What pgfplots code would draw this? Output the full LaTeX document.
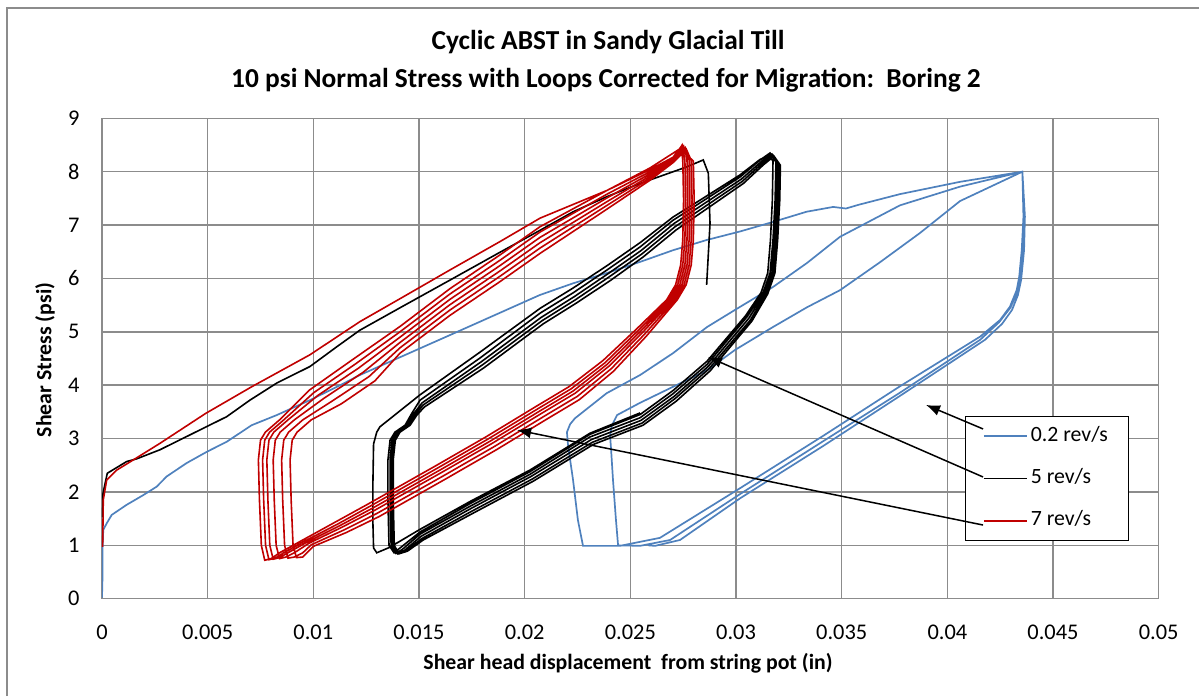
\documentclass[border=0pt]{standalone}
\usepackage{fontspec}
\setmainfont{Carlito}
\usepackage{pgfplots}
\pgfplotsset{compat=1.18}
\usetikzlibrary{arrows.meta}
\definecolor{sblue}{HTML}{4F81BD}
\definecolor{sred}{HTML}{C00000}
\definecolor{gridgray}{HTML}{8C8C8C}
\begin{document}
\begin{tikzpicture}
\path[use as bounding box] (0pt,0pt) rectangle (599.5pt,348pt);
\draw[gridgray, line width=0.6pt] (3.5pt,0pt) -- (3.5pt,344pt) -- (599.5pt,344pt);
\node[font=\bfseries\fontsize{13.7}{16}\selectfont] at (304pt,327pt) {Cyclic ABST in Sandy Glacial Till};
\node[font=\bfseries\fontsize{13.7}{16}\selectfont] at (303pt,308pt) {10 psi Normal Stress with Loops Corrected for Migration:\ \ Boring 2};
\node[font=\bfseries\fontsize{10.9}{13}\selectfont, rotate=90] at (22.5pt,168pt) {Shear Stress (psi)};
\node[font=\bfseries\fontsize{10.9}{13}\selectfont] at (314pt,16.5pt) {Shear head displacement\ \ from string pot (in)};
\begin{axis}[
  at={(51pt,48.65pt)}, anchor=south west,
  width=528.35pt, height=240.2pt, scale only axis,
  xmin=0, xmax=0.05, ymin=0, ymax=9,
  scaled x ticks=false, scaled y ticks=false,
  axis line style={gridgray, line width=0.7pt},
  grid=major, major grid style={gridgray, line width=0.7pt},
  major tick length=0pt, tick style={draw=none},
  xtick={0,0.005,0.01,0.015,0.02,0.025,0.03,0.035,0.04,0.045,0.05},
  xticklabels={0,0.005,0.01,0.015,0.02,0.025,0.03,0.035,0.04,0.045,0.05},
  ytick={0,1,2,3,4,5,6,7,8,9},
  /pgf/number format/assume math mode=true,
  tick label style={font=\fontsize{11.2}{13}\selectfont},
  xticklabel style={anchor=north, inner sep=0pt, yshift=-13pt},
  yticklabel style={anchor=east, inner sep=0pt, xshift=-11pt},
  legend style={at={(0.8167,0.3803)}, anchor=north west, draw=black, line width=0.6pt, fill=white,
    inner xsep=8.75pt, inner ysep=3.35pt, row sep=8.15pt, font=\fontsize{10.9}{13}\selectfont,
    cells={anchor=west}, nodes={inner sep=1.5pt, text height=7.5pt, text depth=2.5pt}},
  legend image code/.code={\draw[#1] (0pt,0pt) -- (21.5pt,0pt);},
]
% 0.2 rev/s
\addplot[sblue, line width=0.85pt, mark=none] coordinates {
(0,0.02)(0.00003,0.5)(0.00003,0.97)(0.00006,1.29)(0.00022,1.41)(0.00046,1.57)(0.00117,1.76)(0.00195,1.94)(0.00259,2.10)(0.00306,2.29)(0.0040,2.54)(0.00495,2.75)(0.0059,2.94)(0.00708,3.25)(0.00827,3.44)(0.00984,3.72)(0.01142,4.03)(0.0122,4.19)(0.01647,4.94)(0.02072,5.69)(0.0223,5.91)(0.02388,6.10)(0.02546,6.31)(0.02703,6.53)(0.02861,6.72)(0.03019,6.88)(0.03176,7.06)(0.03334,7.25)(0.0346,7.34)(0.0352,7.31)(0.0358,7.38)(0.03776,7.58)(0.0406,7.81)(0.04355,8.0)
(0.0436,7.16)(0.04352,6.53)(0.0434,6.03)(0.04328,5.78)(0.04296,5.47)(0.04249,5.22)(0.04155,4.91)(0.03776,3.98)(0.03412,3.05)(0.03019,2.07)(0.0264,1.14)(0.02451,0.99)(0.02276,0.99)
(0.02252,1.47)(0.02229,2.22)(0.02205,2.88)(0.022,3.12)(0.02215,3.27)(0.02238,3.38)(0.02388,3.85)(0.02546,4.19)(0.02702,4.6)(0.02863,5.09)(0.02995,5.41)(0.03175,5.84)(0.03336,6.29)(0.03492,6.78)(0.03776,7.37)(0.0406,7.72)(0.04355,8.0)
(0.04362,7.16)(0.04356,6.53)(0.04345,6.03)(0.04332,5.76)(0.04298,5.45)(0.04245,5.18)(0.04155,4.85)(0.03776,3.86)(0.03412,2.95)(0.03019,1.96)(0.02688,1.10)(0.02546,0.99)(0.02442,1.0)
(0.02432,1.47)(0.02418,2.22)(0.02409,2.79)(0.02404,3.06)(0.02413,3.25)(0.02437,3.44)(0.02546,3.67)(0.02702,3.97)(0.02863,4.28)(0.02995,4.66)(0.03175,5.09)(0.03336,5.46)(0.03492,5.78)(0.0368,6.3)(0.0387,6.85)(0.0406,7.45)(0.04355,8.0)
(0.04367,7.16)(0.04363,6.53)(0.04349,5.97)(0.04334,5.69)(0.04306,5.41)(0.04259,5.15)(0.04178,4.85)(0.03776,3.80)(0.03412,2.86)(0.03019,1.88)(0.02735,1.10)(0.02617,0.99)(0.02584,1.0)
};
\addlegendentry{0.2 rev/s}
% 5 rev/s loops
\addplot[black, line width=0.8pt, mark=none] coordinates {
(0.02546,3.48)(0.02309,3.10)(0.02025,2.41)(0.01741,1.82)(0.01505,1.30)(0.0136,0.96)(0.0130,0.86)(0.01285,0.95)
(0.01282,1.4)(0.01282,2.2)(0.01285,2.9)(0.01300,3.12)(0.01315,3.22)(0.0141,3.52)(0.01505,3.82)(0.01789,4.62)(0.02073,5.44)(0.02229,5.82)(0.0239,6.24)(0.02546,6.67)(0.02702,7.15)(0.02863,7.55)(0.03019,7.94)(0.03114,8.23)(0.03155,8.3)
(0.03175,8.2)(0.03172,7.47)(0.03163,6.72)(0.03150,6.10)(0.03118,5.73)(0.03045,5.30)(0.02863,4.45)(0.02702,3.90)(0.02546,3.45)(0.02309,3.08)(0.02025,2.38)(0.01741,1.78)(0.01505,1.25)(0.0141,0.95)(0.01382,0.86)
(0.01358,1.0)(0.01353,1.85)(0.01353,2.60)(0.01363,2.97)(0.01386,3.12)(0.01434,3.25)(0.01467,3.48)(0.01505,3.72)(0.01789,4.51)(0.02073,5.35)(0.02229,5.73)(0.0239,6.16)(0.02546,6.59)(0.02702,7.09)(0.02863,7.50)(0.03019,7.90)(0.03114,8.22)(0.03161,8.35)
(0.03189,8.18)(0.03185,7.47)(0.03175,6.72)(0.03161,6.10)(0.03128,5.73)(0.03052,5.28)(0.02863,4.39)(0.02702,3.84)(0.02546,3.39)(0.02309,3.03)(0.02025,2.33)(0.01741,1.73)(0.01505,1.21)(0.0142,0.92)(0.0139,0.85)
(0.01368,1.0)(0.01363,1.85)(0.01363,2.60)(0.01372,2.97)(0.01395,3.12)(0.01443,3.25)(0.01476,3.47)(0.01515,3.67)(0.01795,4.44)(0.02078,5.27)(0.02235,5.66)(0.02395,6.09)(0.0255,6.52)(0.02707,7.03)(0.02868,7.45)(0.03025,7.86)(0.0312,8.19)(0.0317,8.33)
(0.03196,8.16)(0.03193,7.47)(0.03183,6.72)(0.0317,6.10)(0.03136,5.73)(0.0306,5.25)(0.02868,4.35)(0.02707,3.79)(0.0255,3.34)(0.02315,2.98)(0.0203,2.29)(0.01746,1.69)(0.0151,1.17)(0.0143,0.90)(0.01398,0.84)
(0.01376,1.0)(0.0137,1.85)(0.0137,2.60)(0.0138,2.97)(0.01403,3.12)(0.0145,3.25)(0.01483,3.46)(0.0152,3.63)(0.018,4.38)(0.02083,5.21)(0.0224,5.60)(0.024,6.03)(0.02555,6.46)(0.02712,6.97)(0.02873,7.40)(0.0303,7.82)(0.03125,8.16)(0.03175,8.31)
(0.03203,8.14)(0.032,7.47)(0.0319,6.72)(0.03177,6.10)(0.03143,5.72)(0.03068,5.22)(0.02873,4.31)(0.02712,3.75)(0.02555,3.29)(0.0232,2.93)(0.02035,2.24)(0.0175,1.64)(0.01515,1.13)(0.01438,0.89)(0.01405,0.84)
(0.01383,1.0)(0.01378,1.85)(0.01378,2.6)(0.01388,2.97)(0.0141,3.12)(0.01458,3.25)(0.0149,3.44)(0.01525,3.59)(0.01805,4.32)(0.02088,5.15)(0.02245,5.54)(0.02405,5.96)(0.0256,6.40)(0.02717,6.91)(0.02878,7.35)(0.03035,7.78)(0.0313,8.13)(0.0318,8.29)
(0.0321,8.12)(0.03207,7.47)(0.03197,6.72)(0.03184,6.10)(0.0315,5.71)(0.03075,5.20)(0.02878,4.27)(0.02717,3.70)(0.0256,3.25)(0.02325,2.89)(0.0204,2.20)(0.01755,1.60)(0.0152,1.10)(0.01445,0.89)(0.01412,0.85)
};
\addlegendentry{5 rev/s}
% 5 rev/s first loading
\addplot[black, line width=0.8pt, mark=none, forget plot] coordinates {
(0.00003,1.53)(0.00005,1.98)(0.00025,2.35)(0.00117,2.57)(0.00164,2.62)(0.00274,2.79)(0.00432,3.10)(0.0059,3.41)(0.0070,3.72)(0.00827,4.04)(0.00984,4.35)(0.01111,4.72)(0.0122,5.03)(0.0141,5.45)(0.01647,5.97)(0.01883,6.49)(0.02072,6.9)(0.0223,7.25)(0.02388,7.53)(0.02546,7.78)(0.02767,8.09)(0.02845,8.22)(0.02869,7.97)(0.02877,7.03)(0.02861,5.88)
};
% 7 rev/s
\addplot[sred, line width=0.8pt, mark=none] coordinates {
(0.00003,0.97)(0.00005,1.5)(0.00006,1.85)(0.00022,2.22)(0.0007,2.41)(0.00148,2.60)(0.00274,2.91)(0.0049,3.47)(0.00708,3.97)(0.00984,4.57)(0.0122,5.19)(0.0141,5.62)(0.01647,6.16)(0.01883,6.69)(0.02073,7.13)(0.0239,7.65)(0.02593,8.07)(0.02735,8.43)
(0.02798,8.20)(0.02802,7.47)(0.02798,6.72)(0.02788,6.25)(0.02764,5.88)(0.02722,5.60)(0.02576,4.92)(0.0242,4.26)(0.02259,3.73)(0.02103,3.36)(0.01866,2.79)(0.01629,2.25)(0.01312,1.54)(0.01156,1.24)(0.0100,0.98)
(0.0095,0.78)(0.0092,0.77)(0.00904,1.0)(0.00895,1.85)(0.0089,2.60)(0.0090,2.97)(0.00923,3.12)(0.0099,3.35)(0.01132,3.65)(0.01291,4.08)(0.0141,4.6)(0.01647,5.31)(0.01883,5.94)(0.02073,6.47)(0.0239,7.3)(0.02593,7.84)(0.02702,8.17)(0.02765,8.42)
(0.02788,8.21)(0.02792,7.47)(0.02788,6.72)(0.02778,6.25)(0.02754,5.88)(0.02712,5.60)(0.02566,4.95)(0.0241,4.31)(0.02249,3.79)(0.02093,3.42)(0.01856,2.85)(0.01619,2.31)(0.01302,1.60)(0.01146,1.29)(0.0099,1.01)
(0.0095,0.86)(0.0091,0.78)(0.0088,0.76)(0.00864,1.0)(0.00855,1.85)(0.0085,2.60)(0.0086,2.97)(0.00883,3.12)(0.0095,3.35)(0.01092,3.71)(0.01263,4.16)(0.0141,4.70)(0.01647,5.41)(0.01883,6.04)(0.02073,6.57)(0.0239,7.37)(0.02593,7.88)(0.02702,8.19)(0.0276,8.45)
(0.02778,8.22)(0.02782,7.47)(0.02778,6.72)(0.02768,6.25)(0.02744,5.88)(0.02702,5.60)(0.02556,4.98)(0.024,4.36)(0.02239,3.85)(0.02083,3.48)(0.01846,2.91)(0.01609,2.37)(0.01292,1.66)(0.01136,1.34)(0.0098,1.04)
(0.0091,0.86)(0.0087,0.78)(0.0084,0.75)(0.00824,1.0)(0.00815,1.85)(0.0081,2.60)(0.0082,2.97)(0.00843,3.12)(0.0091,3.35)(0.01052,3.76)(0.01235,4.24)(0.0141,4.80)(0.01647,5.51)(0.01883,6.14)(0.02073,6.67)(0.0239,7.44)(0.02593,7.92)(0.02702,8.21)(0.02752,8.48)
(0.02768,8.24)(0.02772,7.47)(0.02768,6.72)(0.02758,6.25)(0.02734,5.88)(0.02692,5.60)(0.02546,5.00)(0.0239,4.39)(0.02229,3.89)(0.02073,3.52)(0.01836,2.95)(0.01599,2.41)(0.01282,1.70)(0.01126,1.37)(0.0097,1.06)
(0.0088,0.86)(0.0084,0.77)(0.0081,0.74)(0.00794,1.0)(0.00785,1.85)(0.0078,2.60)(0.0079,2.97)(0.00813,3.12)(0.0088,3.35)(0.01022,3.81)(0.01214,4.32)(0.0141,4.90)(0.01647,5.61)(0.01883,6.24)(0.02073,6.77)(0.0239,7.51)(0.02593,7.96)(0.02702,8.23)(0.02745,8.50)
(0.02758,8.22)(0.02762,7.47)(0.02758,6.72)(0.02748,6.25)(0.02724,5.88)(0.02682,5.60)(0.02536,5.02)(0.0238,4.42)(0.02219,3.93)(0.02063,3.56)(0.01826,2.99)(0.01589,2.45)(0.01272,1.74)(0.01116,1.40)(0.0096,1.08)
(0.0086,0.86)(0.0082,0.76)(0.0079,0.73)(0.00774,1.0)(0.00765,1.85)(0.0076,2.60)(0.0077,2.97)(0.00793,3.12)(0.0086,3.35)(0.01002,3.86)(0.012,4.40)(0.0141,5.00)(0.01647,5.71)(0.01883,6.34)(0.02073,6.87)(0.0239,7.58)(0.02593,8.00)(0.02702,8.25)(0.0274,8.47)
(0.02748,8.22)(0.02752,7.47)(0.02748,6.72)(0.02738,6.25)(0.02714,5.88)(0.02672,5.60)(0.02526,5.04)(0.0237,4.46)(0.02209,3.97)(0.02053,3.60)(0.01816,3.03)(0.01579,2.49)(0.01262,1.78)(0.01106,1.44)(0.0095,1.10)
(0.0084,0.86)(0.008,0.75)(0.0077,0.72)(0.00754,1.0)(0.00745,1.85)(0.0074,2.60)(0.0075,2.97)(0.00773,3.12)(0.0084,3.35)(0.00982,3.91)(0.01186,4.48)(0.0141,5.10)(0.01647,5.81)(0.01883,6.44)(0.02073,6.97)(0.0239,7.65)(0.02593,8.04)(0.02702,8.27)(0.02735,8.44)
};
\addlegendentry{7 rev/s}
\coordinate (t1) at (axis cs:0.04169,3.18);
\coordinate (t2) at (axis cs:0.04169,2.28);
\coordinate (t3) at (axis cs:0.04169,1.38);
\coordinate (h1) at (axis cs:0.03899,3.63);
\coordinate (h2) at (axis cs:0.02867,4.53);
\coordinate (h3) at (axis cs:0.01964,3.16);
\end{axis}
\draw[black, line width=0.75pt, -{Latex[length=7pt,width=5.5pt]}] (t1) -- (h1);
\draw[black, line width=0.75pt, -{Latex[length=7pt,width=5.5pt]}] (t2) -- (h2);
\draw[black, line width=0.75pt, -{Latex[length=7pt,width=5.5pt]}] (t3) -- (h3);
\end{tikzpicture}
\end{document}
